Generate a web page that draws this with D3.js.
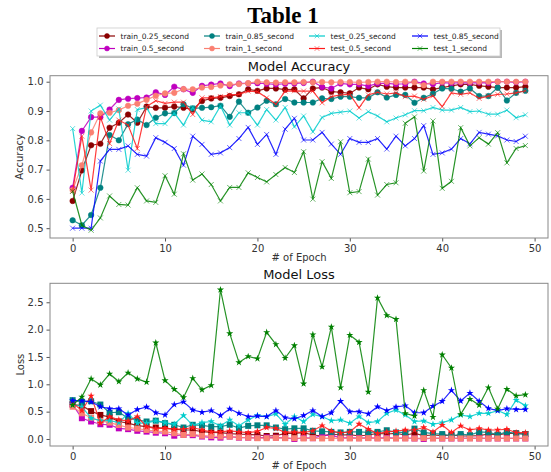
<!DOCTYPE html>
<html><head><meta charset="utf-8">
<script src="https://cdn.jsdelivr.net/npm/d3@7"></script>
<style>body{margin:0;background:#fff}svg{display:block}text{font-family:"DejaVu Sans",sans-serif}</style>
</head><body>
<svg id="c" width="551" height="472"></svg>
<script>
const epochs = [0,1,2,3,4,5,6,7,8,9,10,11,12,13,14,15,16,17,18,19,20,21,22,23,24,25,26,27,28,29,30,31,32,33,34,35,36,37,38,39,40,41,42,43,44,45,46,47,48,49];
const seriesNames = ["train_0.25_second","train_0.5_second","train_0.85_second","train_1_second","test_0.25_second","test_0.5_second","test_0.85_second","test_1_second"];
const seriesColors = ["#8b0000","#bf00bf","#008080","#fa8072","#00cccc","#ff1a1a","#0000ff","#008000"];
const xTicks = [0,10,20,30,40,50];
const accTicks = [0.5,0.6,0.7,0.8,0.9,1.0];
const lossTicks = [0.0,0.5,1.0,1.5,2.0,2.5];

const train_0_25_acc = [0.593,0.697,0.783,0.788,0.843,0.860,0.888,0.860,0.915,0.911,0.911,0.915,0.911,0.905,0.934,0.943,0.945,0.951,0.957,0.974,0.969,0.977,0.977,0.973,0.974,0.943,0.977,0.980,0.966,0.964,0.960,0.980,0.974,0.991,0.983,0.980,0.980,0.980,0.980,0.974,0.980,0.986,0.991,0.991,0.986,0.983,0.980,0.980,0.980,0.983];
const train_0_5_acc = [0.638,0.832,0.879,0.879,0.905,0.938,0.942,0.944,0.946,0.964,0.955,0.983,0.974,0.962,0.986,0.990,0.994,0.985,0.994,0.994,0.995,0.993,0.991,0.993,0.994,0.996,1.0,0.982,0.977,0.994,0.991,0.991,0.985,0.994,0.994,0.992,0.993,1.0,0.994,0.992,0.997,0.995,0.997,0.996,0.997,0.996,1.0,1.0,0.998,1.0];
const train_0_85_acc = [0.527,0.510,0.545,0.638,0.818,0.800,0.855,0.871,0.852,0.877,0.892,0.893,0.923,0.909,0.911,0.913,0.918,0.880,0.932,0.894,0.912,0.935,0.923,0.941,0.929,0.929,0.929,0.943,0.941,0.949,0.949,0.945,0.945,0.964,0.946,0.955,0.955,0.928,0.945,0.959,0.977,0.976,0.966,0.977,0.951,0.951,0.980,0.936,0.962,0.969];
const train_1_acc = [0.630,0.715,0.827,0.892,0.894,0.903,0.918,0.925,0.938,0.952,0.960,0.962,0.975,0.974,0.980,0.982,0.987,0.991,0.992,0.995,1.0,0.998,0.997,0.998,0.998,0.999,0.998,0.999,0.998,0.999,0.999,0.998,0.999,1.0,1.0,0.999,1.0,0.998,0.988,1.0,1.0,1.0,1.0,1.0,1.0,1.0,1.0,1.0,1.0,1.0];
const test_0_25_acc = [0.840,0.620,0.900,0.920,0.869,0.907,0.698,0.905,0.911,0.857,0.857,0.893,0.852,0.912,0.869,0.863,0.917,0.852,0.894,0.894,0.852,0.905,0.869,0.912,0.846,0.883,0.829,0.878,0.892,0.896,0.900,0.876,0.898,0.883,0.863,0.876,0.887,0.901,0.901,0.912,0.903,0.903,0.912,0.898,0.900,0.889,0.889,0.903,0.877,0.887];
const test_0_5_acc = [0.626,0.814,0.630,0.880,0.789,0.869,0.852,0.772,0.915,0.935,0.926,0.930,0.930,0.888,0.945,0.945,0.949,0.955,0.957,0.968,0.966,0.945,0.923,0.968,0.969,0.968,0.968,0.928,0.949,0.955,0.957,0.911,0.955,0.964,0.958,0.962,0.949,0.951,0.940,0.952,0.915,0.962,0.957,0.962,0.943,0.951,0.957,0.958,0.962,0.969];
const test_0_85_acc = [0.500,0.500,0.500,0.729,0.769,0.769,0.781,0.752,0.746,0.809,0.793,0.772,0.715,0.814,0.786,0.752,0.757,0.775,0.806,0.844,0.786,0.820,0.752,0.838,0.875,0.801,0.801,0.827,0.787,0.752,0.806,0.793,0.793,0.806,0.770,0.814,0.781,0.806,0.850,0.752,0.757,0.770,0.806,0.788,0.827,0.821,0.815,0.801,0.796,0.814];
const test_1_acc = [0.626,0.510,0.493,0.535,0.610,0.581,0.579,0.638,0.593,0.588,0.679,0.616,0.754,0.664,0.685,0.649,0.593,0.639,0.639,0.689,0.673,0.658,0.683,0.707,0.690,0.761,0.599,0.727,0.670,0.795,0.621,0.625,0.736,0.613,0.649,0.655,0.858,0.880,0.695,0.866,0.636,0.660,0.843,0.781,0.809,0.787,0.826,0.723,0.772,0.782];

const train_0_25_loss = [0.63,0.61,0.51,0.44,0.40,0.32,0.29,0.245,0.225,0.21,0.195,0.18,0.165,0.165,0.135,0.12,0.115,0.10,0.09,0.085,0.075,0.055,0.06,0.104,0.104,0.116,0.073,0.055,0.091,0.073,0.079,0.055,0.073,0.104,0.091,0.104,0.073,0.104,0.061,0.073,0.061,0.073,0.055,0.055,0.061,0.091,0.073,0.104,0.104,0.091];
const train_0_5_loss = [0.63,0.38,0.32,0.27,0.26,0.195,0.18,0.15,0.135,0.115,0.105,0.06,0.075,0.07,0.045,0.03,0.025,0.045,0.025,0.025,0.02,0.03,0.025,0.02,0.0,0.02,0.015,0.06,0.07,0.02,0.02,0.015,0.02,0.015,0.02,0.015,0.015,0.01,0.0,0.015,0.01,0.01,0.01,0.015,0.01,0.01,0.01,0.01,0.01,0.01];
const train_0_85_loss = [0.71,0.68,0.69,0.63,0.48,0.49,0.38,0.35,0.32,0.335,0.29,0.26,0.21,0.26,0.25,0.225,0.225,0.26,0.20,0.24,0.25,0.25,0.21,0.18,0.195,0.195,0.15,0.14,0.13,0.12,0.13,0.13,0.12,0.13,0.16,0.12,0.12,0.19,0.12,0.10,0.09,0.055,0.09,0.07,0.13,0.12,0.08,0.13,0.10,0.09];
const train_1_loss = [0.59,0.47,0.39,0.33,0.30,0.255,0.21,0.19,0.165,0.145,0.135,0.105,0.075,0.09,0.06,0.055,0.045,0.045,0.03,0.025,0.015,0.015,0.02,0.015,0.015,0.01,0.015,0.01,0.015,0.01,0.01,0.01,0.015,0.01,0.01,0.01,0.01,0.01,0.015,0.01,0.01,0.01,0.01,0.01,0.01,0.01,0.01,0.01,0.01,0.01];
const test_0_25_loss = [0.64,0.59,0.38,0.335,0.335,0.30,0.47,0.29,0.29,0.335,0.30,0.27,0.43,0.25,0.30,0.32,0.24,0.35,0.24,0.35,0.43,0.41,0.46,0.27,0.41,0.32,0.45,0.41,0.335,0.35,0.29,0.41,0.30,0.32,0.47,0.53,0.44,0.32,0.33,0.27,0.30,0.35,0.44,0.41,0.47,0.47,0.52,0.45,0.71,0.61];
const test_0_5_loss = [0.66,0.52,0.79,0.29,0.41,0.35,0.33,0.41,0.225,0.19,0.20,0.18,0.18,0.21,0.165,0.13,0.13,0.15,0.13,0.115,0.14,0.21,0.195,0.12,0.13,0.115,0.15,0.245,0.145,0.11,0.13,0.275,0.18,0.10,0.13,0.145,0.165,0.165,0.21,0.13,0.255,0.12,0.24,0.165,0.195,0.165,0.165,0.18,0.115,0.115];
const test_0_85_loss = [0.70,0.70,0.68,0.59,0.555,0.555,0.44,0.54,0.585,0.48,0.44,0.63,0.68,0.53,0.49,0.52,0.43,0.55,0.47,0.41,0.42,0.41,0.52,0.39,0.37,0.43,0.52,0.41,0.48,0.69,0.50,0.50,0.46,0.59,0.52,0.585,0.61,0.48,0.48,0.60,0.69,0.89,0.695,0.84,0.69,0.56,0.52,0.555,0.54,0.54];
const test_1_loss = [0.62,0.77,1.10,0.99,1.19,1.05,1.21,1.10,1.04,1.76,1.07,0.91,0.76,1.11,0.90,0.98,2.73,1.93,1.40,1.51,1.47,1.95,1.73,1.48,1.71,1.01,1.91,1.32,2.05,0.94,1.90,1.77,0.86,2.58,2.26,2.19,0.47,0.42,0.89,0.40,1.54,1.30,0.45,0.73,0.62,0.94,0.55,0.91,0.79,0.81];

const accData = [train_0_25_acc,train_0_5_acc,train_0_85_acc,train_1_acc,test_0_25_acc,test_0_5_acc,test_0_85_acc,test_1_acc];
const lossData = [train_0_25_loss,train_0_5_loss,train_0_85_loss,train_1_loss,test_0_25_loss,test_0_5_loss,test_0_85_loss,test_1_loss];

const svg = d3.select("#c");

svg.append("text").attr("x",283).attr("y",23).attr("text-anchor","middle")
  .style("font-family","'Liberation Serif',serif").style("font-weight","bold").style("font-size","23px")
  .text("Table 1");

function drawMarker(g, type, x, y, color, size) {
  if (type === "circle") {
    g.append("circle").attr("cx",x).attr("cy",y).attr("r",size).attr("fill",color).attr("stroke",color).attr("stroke-width",0.5);
  } else if (type === "x") {
    const s = size;
    g.append("path").attr("d",`M${x-s},${y-s}L${x+s},${y+s}M${x-s},${y+s}L${x+s},${y-s}`)
      .attr("stroke",color).attr("stroke-width",1).attr("stroke-opacity",0.6).attr("fill","none");
  } else if (type === "square") {
    g.append("rect").attr("x",x-size).attr("y",y-size).attr("width",2*size).attr("height",2*size).attr("fill",color);
  } else if (type === "star") {
    g.append("path").attr("d",d3.symbol(d3.symbolStar, size*size*3)()).attr("transform",`translate(${x},${y})`).attr("fill",color);
  }
}

function panel(cfg) {
  const x = d3.scaleLinear().domain([-2.45,51.45]).range([50,548]);
  const y = d3.scaleLinear().domain(cfg.yDomain).range([cfg.bottom,cfg.top]);
  const g = svg.append("g");
  g.append("text").attr("x",299).attr("y",cfg.top-4.5).attr("text-anchor","middle")
    .style("font-size","13px").attr("fill","#111").text(cfg.title);
  const xa = g.append("g").attr("transform",`translate(0,${cfg.bottom})`)
    .call(d3.axisBottom(x).tickValues(xTicks).tickSize(3.5).tickPadding(3).tickFormat(d3.format("d")));
  const ya = g.append("g").attr("transform","translate(50,0)")
    .call(d3.axisLeft(y).tickValues(cfg.ticks).tickSize(3.5).tickPadding(3).tickFormat(d3.format(".1f")));
  [xa,ya].forEach(a=>{
    a.select(".domain").remove();
    a.selectAll("line").attr("stroke","#555");
    a.selectAll("text").style("font-size","10px").attr("fill","#333").style("font-family","'DejaVu Sans',sans-serif");
  });
  g.append("text").attr("x",299).attr("y",cfg.bottom+23).attr("text-anchor","middle")
    .style("font-size","10px").attr("fill","#333").text("# of Epoch");
  g.append("text").attr("transform",`translate(${cfg.ylabX},${(cfg.top+cfg.bottom)/2}) rotate(-90)`)
    .attr("text-anchor","middle").style("font-size","10px").attr("fill","#333").text(cfg.ylabel);
  const clipId = "clip"+cfg.title.replace(/\s/g,"");
  svg.append("clipPath").attr("id",clipId).append("rect").attr("x",50).attr("y",cfg.top).attr("width",498).attr("height",cfg.bottom-cfg.top);
  const plot = g.append("g").attr("clip-path",`url(#${clipId})`);
  const line = d3.line().x((d,i)=>x(epochs[i])).y(d=>y(d));
  cfg.data.forEach((vals,si)=>{
    const col = seriesColors[si];
    const sg = plot.append("g");
    sg.append("path").attr("d",line(vals)).attr("fill","none").attr("stroke",col).attr("stroke-width",1.2).attr("stroke-opacity",0.85);
    const mtype = si < 4 ? cfg.trainMarker : cfg.testMarker;
    vals.forEach((v,i)=> drawMarker(sg, mtype, x(epochs[i]), y(v), col, si<4 ? cfg.trainSize : cfg.testSize));
  });
  g.append("rect").attr("x",50).attr("y",cfg.top).attr("width",498).attr("height",cfg.bottom-cfg.top)
    .attr("fill","none").attr("stroke","#888").attr("stroke-width",1);
}

panel({title:"Model Accuracy", top:75.7, bottom:238, yDomain:[0.4665,1.0205], ticks:accTicks, ylabel:"Accuracy", ylabX:23,
  data:accData, trainMarker:"circle", testMarker:"x", trainSize:2.8, testSize:2.5});
panel({title:"Model Loss", top:283.3, bottom:446, yDomain:[-0.128,2.847], ticks:lossTicks, ylabel:"Loss", ylabX:24,
  data:lossData, trainMarker:"square", testMarker:"star", trainSize:3, testSize:2.3});

const lg = svg.append("g");
lg.append("rect").attr("x",99).attr("y",30).attr("width",403).attr("height",28).attr("fill","#888").attr("opacity",0.6);
lg.append("rect").attr("x",97).attr("y",28).attr("width",403).attr("height",28).attr("fill","#fff").attr("stroke","#ccc").attr("stroke-width",0.8);
const colX = [99,204,309,412];
const rowY = [36,48.5];
seriesNames.forEach((name,i)=>{
  const c = Math.floor(i/2), r = i%2;
  const x0 = colX[c], y0 = rowY[r];
  const col = seriesColors[i];
  lg.append("line").attr("x1",x0).attr("x2",x0+16).attr("y1",y0).attr("y2",y0).attr("stroke",col).attr("stroke-width",1.2);
  drawMarker(lg, i<4 ? "circle" : "x", x0+8, y0, col, i<4 ? 2.5 : 2.3);
  lg.append("text").attr("x",x0+21.5).attr("y",y0+2.7).style("font-size","7.5px").attr("fill","#222").text(name);
});
</script>
</body></html>
